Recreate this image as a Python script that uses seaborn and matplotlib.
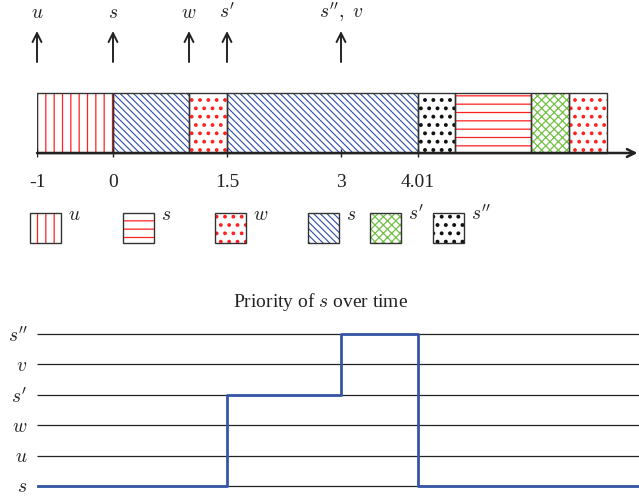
import matplotlib
matplotlib.use("Agg")
import matplotlib.pyplot as plt
import pandas as pd
import seaborn as sns

sns.set_theme(style="white")
plt.rcParams["font.family"] = ["Liberation Serif", "DejaVu Serif"]
plt.rcParams["mathtext.fontset"] = "cm"
plt.rcParams["hatch.linewidth"] = 0.9

# process styles, in legend order
legend_labels = ["$u$", "$s$", "$w$", "$s$", "$s'$", "$s''$"]
style_hatch = ["||", "--", "..", "\\\\\\\\\\", "xxxx", ".."]
style_color = ["#ff2020", "#ff2020", "#ff2020", "#2b4ca8", "#74c044", "#111111"]
style_hatch_lw = [0.9, 0.9, 1.5, 0.8, 0.9, 1.6]

# schedule segments on the timeline
seg_start = [-1, 0, 1, 1.5, 4.01, 4.5, 5.5, 6.0]
seg_end = [0, 1, 1.5, 4.01, 4.5, 5.5, 6.0, 6.5]
seg_style = [0, 3, 2, 3, 5, 1, 4, 2]

# arrival events
event_time = [-1, 0, 1, 1.5, 3]
event_label = ["$u$", "$s$", "$w$", "$s'$", "$s'',\\ v$"]

# labelled instants on the time axis
tick_time = [-1, 0, 1.5, 3, 4.01]
tick_label = ["-1", "0", "1.5", "3", "4.01"]

# priority of s over time
priority_levels = ["$s$", "$u$", "$w$", "$s'$", "$v$", "$s''$"]
prio_time = [-1, 1.5, 3, 4.01]
prio_level = ["$s$", "$s'$", "$s''$", "$s$"]

W, H, DPI = 639, 496, 100
X0_PX, PX_PER_UNIT = 37, 76.0
t_min = -1
t_max = t_min + (W - X0_PX) / PX_PER_UNIT
FS = 14
INK = "#222222"


def hatched_box(ax, x, y, w, h, k):
    """Hatched fill in the process colour plus a dark outline."""
    with plt.rc_context({"hatch.linewidth": style_hatch_lw[k]}):
        bars = ax.bar(x, h, width=w, bottom=y, align="edge", color="none",
                      edgecolor=style_color[k], hatch=style_hatch[k], lw=0)
        for p in bars:
            if hasattr(p, "set_hatch_linewidth"):
                p.set_hatch_linewidth(style_hatch_lw[k])
    ax.bar(x, h, width=w, bottom=y, align="edge", fill=False,
           edgecolor="#333333", lw=1.0)


fig = plt.figure(figsize=(W / DPI, H / DPI), dpi=DPI)

# ---- timeline (x in time units, y in pixel rows from the top) ----
ax_t = fig.add_axes([X0_PX / W, 0, 1 - X0_PX / W, 1])
ax_t.set_xlim(t_min, t_max)
ax_t.set_ylim(H, 0)
ax_t.axis("off")
ax_t.patch.set_visible(False)

bar_top, bar_h, axis_y = 93, 60, 153
for a, b, k in zip(seg_start, seg_end, seg_style):
    hatched_box(ax_t, a, bar_top, b - a, bar_h, k)

ax_t.annotate("", xy=(t_max - 1.5 / PX_PER_UNIT, axis_y), xytext=(t_min, axis_y),
              arrowprops=dict(arrowstyle="->", lw=1.8, color=INK,
                              shrinkA=0, shrinkB=0, mutation_scale=14))
ax_t.vlines(tick_time, axis_y - 4, axis_y + 4, color=INK, lw=1.0)
for t, lab in zip(tick_time, tick_label):
    ax_t.text(t, 187, lab, ha="center", va="baseline", fontsize=FS, color=INK)

for t, lab in zip(event_time, event_label):
    ax_t.annotate("", xy=(t, 31), xytext=(t, 62),
                  arrowprops=dict(arrowstyle="->", lw=1.4, color=INK,
                                  shrinkA=0, shrinkB=0, mutation_scale=16))
    ax_t.text(t, 18, lab, ha="center", va="baseline", fontsize=FS, color=INK)

# ---- legend row (pixel coordinates) ----
ax_l = fig.add_axes([0, 0, 1, 1])
ax_l.set_xlim(0, W)
ax_l.set_ylim(H, 0)
ax_l.axis("off")
ax_l.patch.set_visible(False)
swatch_x = [30, 123, 215, 308, 370, 433]
for k, (x, lab) in enumerate(zip(swatch_x, legend_labels)):
    hatched_box(ax_l, x, 213, 31, 30, k)
    ax_l.text(x + 38, 220, lab, ha="left", va="baseline", fontsize=FS, color=INK)

# ---- priority of s over time ----
ax_b = fig.add_axes([X0_PX / W, 0, 1 - X0_PX / W, 176 / H])
ax_b.set_xlim(t_min, t_max)
ax_b.set_ylim(-0.329, 5.46)
ax_b.hlines(range(len(priority_levels)), t_min, t_max, color=INK, lw=0.9)

level_idx = [priority_levels.index(p) for p in prio_level]
prio_df = pd.DataFrame({"time": prio_time + [t_max],
                        "level": level_idx + [level_idx[-1]]})
sns.lineplot(data=prio_df, x="time", y="level", drawstyle="steps-post",
             estimator=None, color="#3556a8", lw=2.0, ax=ax_b, zorder=3)

ax_b.set_yticks(range(len(priority_levels)), priority_levels, fontsize=FS)
ax_b.tick_params(axis="y", length=0, pad=7, colors=INK)
ax_b.set_xticks([])
ax_b.set_xlabel("")
ax_b.set_ylabel("")
for sp in ax_b.spines.values():
    sp.set_visible(False)
ax_b.patch.set_visible(False)

fig.text(321 / W, 1 - 302 / H, "Priority of $s$ over time", ha="center",
         va="center", fontsize=FS, color=INK)

fig.savefig("out.png", dpi=DPI)
